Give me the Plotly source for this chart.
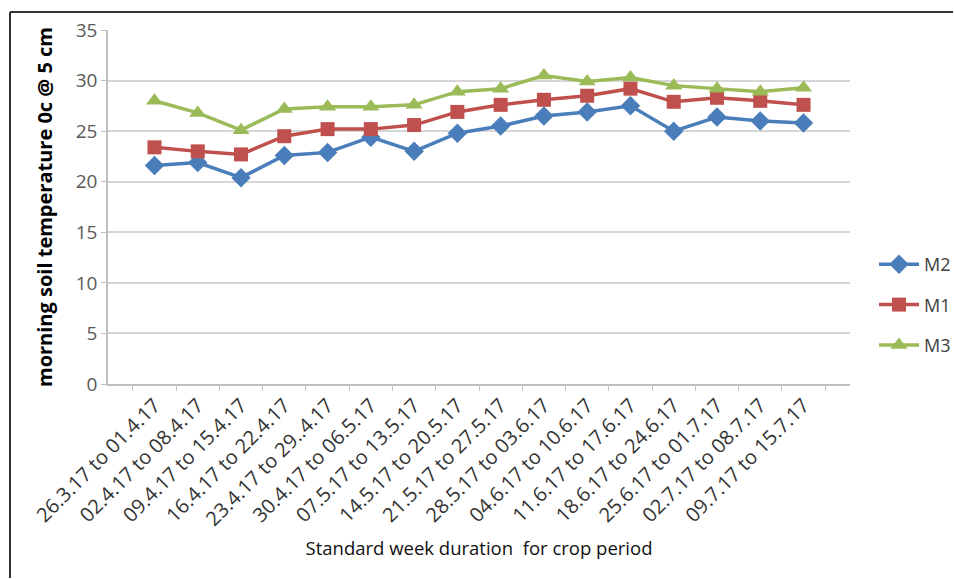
import plotly.graph_objects as go

weeks = ["26.3.17 to 01.4.17", "02.4.17 to 08.4.17", "09.4.17 to 15.4.17",
         "16.4.17 to 22.4.17", "23.4.17 to 29..4.17", "30.4.17 to 06.5.17",
         "07.5.17 to 13.5.17", "14.5.17 to 20.5.17", "21.5.17 to 27.5.17",
         "28.5.17 to 03.6.17", "04.6.17 to 10.6.17", "11.6.17 to 17.6.17",
         "18.6.17 to 24.6.17", "25.6.17 to 01.7.17", "02.7.17 to 08.7.17",
         "09.7.17 to 15.7.17"]
m2 = [21.6, 21.9, 20.4, 22.6, 22.9, 24.4, 23.0, 24.8, 25.5, 26.5, 26.9, 27.5, 25.0, 26.4, 26.0, 25.8]
m1 = [23.4, 23.0, 22.7, 24.5, 25.2, 25.2, 25.6, 26.9, 27.6, 28.1, 28.5, 29.2, 27.9, 28.3, 28.0, 27.6]
m3 = [28.0, 26.8, 25.1, 27.2, 27.4, 27.4, 27.6, 28.9, 29.2, 30.5, 29.9, 30.3, 29.5, 29.2, 28.9, 29.3]
y_ticks = [0, 5, 10, 15, 20, 25, 30, 35]

FONT = "Open Sans"
W, H = 954, 579
L, R, T, B = 108, 850, 30, 384

fig = go.Figure()
series = [("M2", m2, "#4A7EBB", "diamond", 15),
          ("M1", m1, "#C0504D", "square", 14),
          ("M3", m3, "#9BBB59", "triangle-up", 15)]
for name, vals, col, sym, sz in series:
    fig.add_trace(go.Scatter(x=weeks, y=vals, name=name, mode="lines+markers",
                             line=dict(color=col, width=3.5),
                             marker=dict(symbol=sym, size=sz, color=col),
                             legendgroup=name))

def px_x(p):
    return (p - L) / (R - L)

def px_y(p):
    return (B - p) / (B - T)

fig.update_layout(
    width=W, height=H,
    margin=dict(l=L, r=W - R, t=T, b=H - B, pad=0),
    paper_bgcolor="white", plot_bgcolor="white",
    font=dict(family=FONT, color="#404040", size=18),
    showlegend=True,
    legend=dict(xref="container", yref="container",
                x=874 / W, y=1 - 246 / H, xanchor="left", yanchor="top",
                font=dict(size=18, color="#404040", family=FONT),
                tracegroupgap=14, itemwidth=40, bgcolor="rgba(0,0,0,0)"),
    xaxis=dict(type="category", tickangle=-45, tickson="boundaries",
               ticks="outside", ticklen=5, tickcolor="#BFBFBF",
               showline=True, linecolor="#BFBFBF", linewidth=1.5,
               showgrid=False, tickfont=dict(size=20, color="#333333"),
               automargin=False,
               title=dict(text="Standard week duration  for crop period",
                          font=dict(size=18.5, color="#111111"), standoff=12)),
    yaxis=dict(range=[0, 35], tickvals=y_ticks, ticks="outside", ticklen=5,
               tickcolor="#BFBFBF", showline=True, linecolor="#BFBFBF",
               linewidth=1.5, showgrid=True, gridcolor="#D6D6D6", gridwidth=2,
               zeroline=False, tickfont=dict(size=19, color="#595959"),
               automargin=False,
               title=dict(text="<b>morning soil temperature 0c @ 5 cm</b>",
                          font=dict(size=20, color="#000000"), standoff=18)),
)

# outer frame (top and left edges)
fig.add_shape(type="line", xref="paper", yref="paper",
              x0=px_x(10), x1=px_x(953), y0=px_y(12), y1=px_y(12),
              line=dict(color="#333333", width=2))
fig.add_shape(type="line", xref="paper", yref="paper",
              x0=px_x(10), x1=px_x(10), y0=px_y(12), y1=px_y(578),
              line=dict(color="#333333", width=2))

fig.write_html("out.html", config={"displayModeBar": False},
               post_script="document.body.style.margin='0';document.body.style.overflow='hidden';")
